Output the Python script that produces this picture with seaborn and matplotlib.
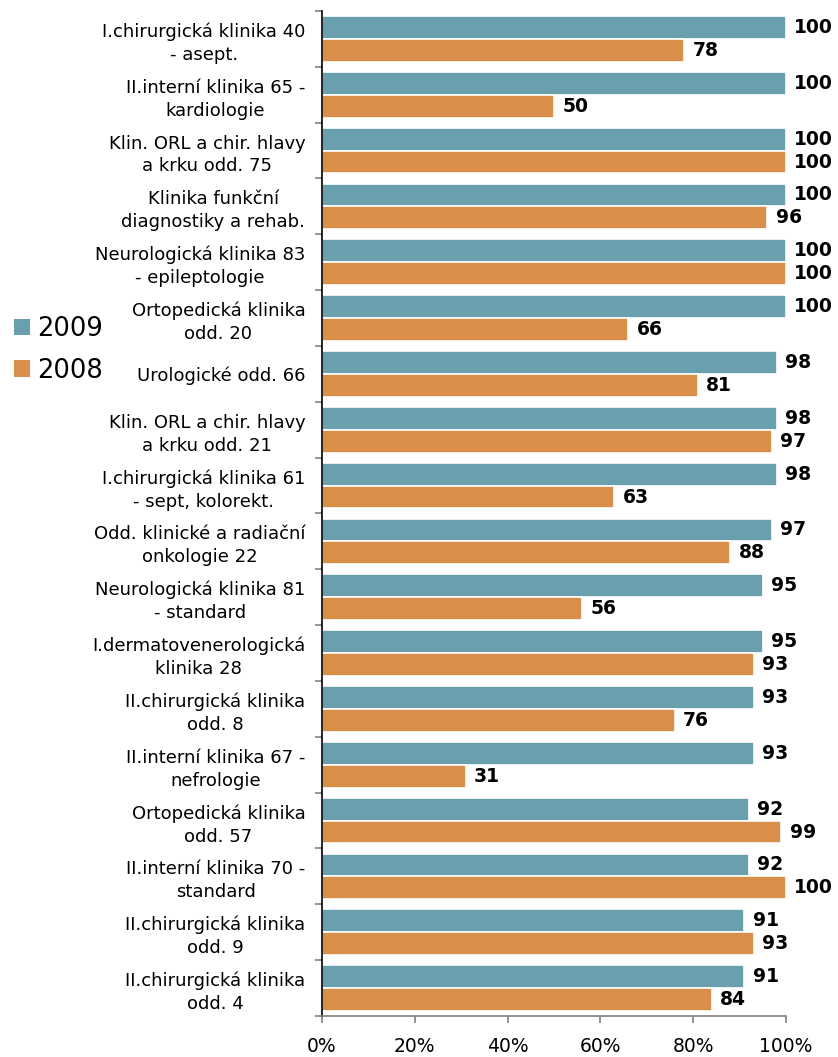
import pandas as pd
import seaborn as sns
import matplotlib.pyplot as plt
from matplotlib.patches import Patch
from matplotlib.ticker import FixedLocator

categories = [
    "I.chirurgická klinika 40\n- asept.",
    "II.interní klinika 65 -\nkardiologie",
    "Klin. ORL a chir. hlavy\na krku odd. 75",
    "Klinika funkční\ndiagnostiky a rehab.",
    "Neurologická klinika 83\n- epileptologie",
    "Ortopedická klinika\nodd. 20",
    "Urologické odd. 66",
    "Klin. ORL a chir. hlavy\na krku odd. 21",
    "I.chirurgická klinika 61\n- sept, kolorekt.",
    "Odd. klinické a radiační\nonkologie 22",
    "Neurologická klinika 81\n- standard",
    "I.dermatovenerologická\nklinika 28",
    "II.chirurgická klinika\nodd. 8",
    "II.interní klinika 67 -\nnefrologie",
    "Ortopedická klinika\nodd. 57",
    "II.interní klinika 70 -\nstandard",
    "II.chirurgická klinika\nodd. 9",
    "II.chirurgická klinika\nodd. 4",
]
values_2009 = [100, 100, 100, 100, 100, 100, 98, 98, 98, 97, 95, 95, 93, 93, 92, 92, 91, 91]
values_2008 = [78, 50, 100, 96, 100, 66, 81, 97, 63, 88, 56, 93, 76, 31, 99, 100, 93, 84]
years = ["2009", "2008"]
colors = {"2009": "#6a9fad", "2008": "#d98f4a"}

df = pd.DataFrame({
    "kat": categories * 2,
    "rok": ["2009"] * len(categories) + ["2008"] * len(categories),
    "hodnota": values_2009 + values_2008,
})

sns.set_style("white")
plt.rcParams["font.family"] = ["DejaVu Sans"]
plt.rcParams["text.color"] = "black"
plt.rcParams["xtick.color"] = "black"
plt.rcParams["ytick.color"] = "black"

fig = plt.figure(figsize=(8.38, 10.57), dpi=100)
ax = fig.add_axes([0.3842, 0.0388, 0.938 - 0.3842, 0.9896 - 0.0388])

sns.barplot(data=df, y="kat", x="hodnota", hue="rok", hue_order=years,
            palette=colors, saturation=1, orient="h", width=0.82, ax=ax,
            edgecolor="white", linewidth=1.2, legend=False, errorbar=None)

for cont in ax.containers:
    ax.bar_label(cont, labels=[f"{int(v.get_width())}" for v in cont],
                 padding=6, fontsize=13.5, fontweight="bold", color="black")

ax.set_xlim(0, 100)
ax.set_ylim(len(categories) - 0.5, -0.5)
ax.set_xticks([0, 20, 40, 60, 80, 100])
ax.set_xticklabels(["0%", "20%", "40%", "60%", "80%", "100%"], fontsize=13.5)
ax.set_yticks(range(len(categories)))
ax.set_yticklabels(categories, fontsize=13, multialignment="center", linespacing=1.35)
ax.yaxis.set_minor_locator(FixedLocator([i - 0.5 for i in range(len(categories) + 1)]))
ax.tick_params(axis="y", which="major", left=True, length=0, pad=12)
ax.tick_params(axis="y", which="minor", left=True, length=5, color="#808080", width=1.2)
ax.tick_params(axis="x", bottom=True, length=5, color="#808080", width=1.2, pad=10)
ax.set_xlabel("")
ax.set_ylabel("")

for s in ["top", "right"]:
    ax.spines[s].set_visible(False)
ax.spines["left"].set_color("black")
ax.spines["left"].set_linewidth(1.2)
ax.spines["bottom"].set_color("#808080")
ax.spines["bottom"].set_linewidth(1.2)

handles = [Patch(facecolor=colors[y], edgecolor="none", label=y) for y in years]
fig.legend(handles=handles, loc="center left", bbox_to_anchor=(0.017, 0.669),
           frameon=False, fontsize=18.5, handlelength=0.6, handleheight=0.6,
           handletextpad=0.3, labelspacing=0.6, borderpad=0, borderaxespad=0)

fig.savefig("out.png", dpi=100)
